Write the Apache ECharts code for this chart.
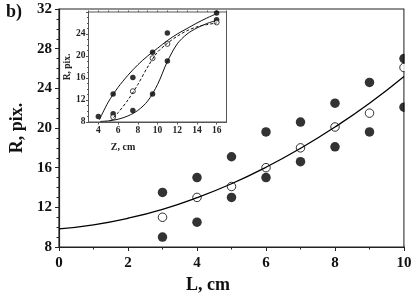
<!DOCTYPE html>
<html>
<head>
<meta charset="utf-8">
<script src="https://cdn.jsdelivr.net/npm/echarts@6/dist/echarts.min.js"></script>
<style>html,body{margin:0;padding:0;background:#fff}#c{width:415px;height:304px}</style>
</head>
<body>
<div id="c"></div>
<script>
// Main plot data
var L = [3, 4, 5, 6, 7, 8, 9, 10];
var RfilledHigh = [13.5, 15.0, 17.1, 19.6, 20.6, 22.5, 24.6, 27.0];
var RfilledLow  = [9.0, 10.5, 13.0, 15.0, 16.6, 18.1, 19.6, 22.1];
var Ropen       = [11.0, 13.0, 14.1, 16.0, 18.0, 20.1, 21.5, 26.1];
// Fitted curve
var Lcurve = [0, 1, 2, 3, 4, 5, 6, 7, 8, 9, 10];
var Rcurve = [9.83, 10.24, 10.9, 11.8, 12.97, 14.38, 16.04, 17.95, 20.1, 22.5, 25.2];

// Inset data
var ZfilledHigh = [4, 5.5, 7.5, 9.5, 11, 16];
var RinFilledHigh = [9.0, 13.1, 16.1, 20.7, 24.2, 27.8];
var ZfilledLow = [5.5, 7.5, 9.5, 11, 16];
var RinFilledLow = [9.5, 10.1, 13.1, 19.1, 26.6];
var Zopen = [5.5, 7.5, 9.5, 11, 16];
var RinOpen = [8.9, 13.6, 19.6, 22.2, 26.1];
// Inset curves
var ZcurveUp = [4.1, 5, 6, 7, 8, 9, 10, 11, 12, 13, 14, 15, 16];
var RcurveUp = [8.4, 11.6, 14.3, 16.5, 18.4, 20.0, 21.4, 22.8, 24.0, 25.0, 26.0, 26.9, 27.7];
var ZcurveLow = [4.2, 5, 6, 7, 8, 9, 10, 11, 12, 13, 14, 15, 16];
var RcurveLow = [8.1, 8.2, 8.5, 9.1, 10.1, 11.8, 14.8, 19.0, 22.2, 24.0, 25.1, 25.9, 26.5];
var ZcurveDash = [5.2, 6, 7, 8, 9, 10, 11, 12, 13, 14, 15, 16];
var RcurveDash = [8.1, 9.7, 12.0, 14.8, 18.0, 20.7, 22.3, 23.6, 24.6, 25.3, 25.7, 26.0];

// Tick labels
var mainXTicks = [0, 2, 4, 6, 8, 10];
var mainYTicks = [8, 12, 16, 20, 24, 28, 32];
var insetXLabels = [4, 6, 8, 10, 12, 14, 16];
var insetXMinor = [3, 4, 5, 6, 7, 8, 9, 10, 11, 12, 13, 14, 15, 16, 17];
var insetYLabels = [8, 12, 16, 20, 24];

function zip(a, b) { return a.map(function (v, i) { return [v, b[i]]; }); }

var FONT = '"Liberation Serif", "DejaVu Serif", serif';
var AXC = '#222';

var chart = echarts.init(document.getElementById('c'), null, {renderer: 'canvas'});
chart.setOption({
  animation: false,
  backgroundColor: '#fff',
  grid: [
    {left: 59, top: 9, width: 345, height: 238, show: true, borderColor: AXC, borderWidth: 1.2, backgroundColor: 'transparent'},
    {left: 88.5, top: 12, width: 138, height: 110, show: true, borderColor: '#555', borderWidth: 1, backgroundColor: '#fff'}
  ],
  xAxis: [
    {
      gridIndex: 0, type: 'value', min: 0, max: 10, interval: 2,
      name: 'L, cm', nameLocation: 'middle', nameGap: 26,
      nameTextStyle: {fontFamily: FONT, fontWeight: 'bold', fontSize: 18, color: '#111', padding: [0, 47, 0, 0]},
      axisLine: {show: true, lineStyle: {color: AXC, width: 1.2}},
      axisTick: {show: true, inside: false, length: 4, lineStyle: {color: AXC}},
      minorTick: {show: true, splitNumber: 2, length: 2.5, lineStyle: {color: AXC}},
      axisLabel: {fontFamily: FONT, fontWeight: 'bold', fontSize: 15, color: '#111', margin: 9,
                  customValues: mainXTicks},
      splitLine: {show: false}
    },
    {
      gridIndex: 1, type: 'value', min: 3, max: 17,
      name: 'Z, cm', nameLocation: 'middle', nameGap: 20,
      nameTextStyle: {fontFamily: FONT, fontWeight: 'bold', fontSize: 10, color: '#222', padding: [0, 69, 0, 0]},
      axisLine: {show: true, lineStyle: {color: '#555', width: 1}},
      axisTick: {show: true, inside: false, length: 2.5, customValues: insetXLabels, lineStyle: {color: '#555'}},
      axisLabel: {fontFamily: FONT, fontWeight: 'bold', fontSize: 9.5, color: '#222', margin: 4, customValues: insetXLabels},
      splitLine: {show: false}
    },
    {
      gridIndex: 1, type: 'value', min: 3, max: 17,
      axisLine: {show: false},
      axisTick: {show: true, inside: false, length: 1.5, customValues: insetXMinor, lineStyle: {color: '#555'}},
      axisLabel: {show: false},
      splitLine: {show: false}
    }
  ],
  yAxis: [
    {
      gridIndex: 0, type: 'value', min: 8, max: 32, interval: 4,
      name: 'R, pix.', nameLocation: 'middle', nameGap: 30,
      nameTextStyle: {fontFamily: FONT, fontWeight: 'bold', fontSize: 18, color: '#111'},
      axisLine: {show: true, lineStyle: {color: AXC, width: 1.2}},
      axisTick: {show: true, inside: false, length: 4, lineStyle: {color: AXC}},
      minorTick: {show: true, splitNumber: 4, length: 2.5, lineStyle: {color: AXC}},
      axisLabel: {fontFamily: FONT, fontWeight: 'bold', fontSize: 15, color: '#111', margin: 7,
                  customValues: mainYTicks},
      splitLine: {show: false}
    },
    {
      gridIndex: 1, type: 'value', min: 8, max: 28, interval: 4,
      name: 'R, pix.', nameLocation: 'middle', nameGap: 13,
      nameTextStyle: {fontFamily: FONT, fontWeight: 'bold', fontSize: 9.5, color: '#222'},
      axisLine: {show: true, lineStyle: {color: '#555', width: 1}},
      axisTick: {show: true, inside: false, length: 2.5, lineStyle: {color: '#555'}},
      minorTick: {show: true, splitNumber: 4, length: 1.5, lineStyle: {color: '#555'}},
      axisLabel: {fontFamily: FONT, fontWeight: 'bold', fontSize: 9.5, color: '#222', margin: 3, customValues: insetYLabels},
      splitLine: {show: false}
    }
  ],
  graphic: [
    {type: 'text', left: 6, top: 3, z: 100,
     style: {text: 'b)', font: 'bold 18px ' + FONT, fill: '#111'}},
    {type: 'rect', shape: {x: 404.7, y: 0, width: 12, height: 245}, style: {fill: '#fff'}, z: 100, silent: true}
  ],
  series: [
    {type: 'line', xAxisIndex: 0, yAxisIndex: 0, data: zip(Lcurve, Rcurve), smooth: true, showSymbol: false,
     lineStyle: {color: '#000', width: 1.3}},
    {type: 'scatter', xAxisIndex: 0, yAxisIndex: 0, data: zip(L, RfilledHigh), symbolSize: 9.5, itemStyle: {color: '#000'}},
    {type: 'scatter', xAxisIndex: 0, yAxisIndex: 0, data: zip(L, RfilledLow), symbolSize: 9.5, itemStyle: {color: '#000'}},
    {type: 'scatter', xAxisIndex: 0, yAxisIndex: 0, data: zip(L, Ropen), symbolSize: 8.5,
     itemStyle: {color: '#fff', borderColor: '#000', borderWidth: 1}},

    {type: 'line', xAxisIndex: 1, yAxisIndex: 1, data: zip(ZcurveUp, RcurveUp), smooth: 0.3, showSymbol: false,
     lineStyle: {color: '#111', width: 1}},
    {type: 'line', xAxisIndex: 1, yAxisIndex: 1, data: zip(ZcurveLow, RcurveLow), smooth: 0.3, showSymbol: false,
     lineStyle: {color: '#111', width: 1}},
    {type: 'line', xAxisIndex: 1, yAxisIndex: 1, data: zip(ZcurveDash, RcurveDash), smooth: 0.3, showSymbol: false,
     lineStyle: {color: '#111', width: 1, type: [3, 2]}},
    {type: 'scatter', xAxisIndex: 1, yAxisIndex: 1, data: zip(ZfilledHigh, RinFilledHigh), symbolSize: 5.5, itemStyle: {color: '#000'}},
    {type: 'scatter', xAxisIndex: 1, yAxisIndex: 1, data: zip(ZfilledLow, RinFilledLow), symbolSize: 5.5, itemStyle: {color: '#000'}},
    {type: 'scatter', xAxisIndex: 1, yAxisIndex: 1, data: zip(Zopen, RinOpen), symbolSize: 5,
     itemStyle: {color: '#fff', borderColor: '#000', borderWidth: 0.9}}
  ]
});
</script>
</body>
</html>
